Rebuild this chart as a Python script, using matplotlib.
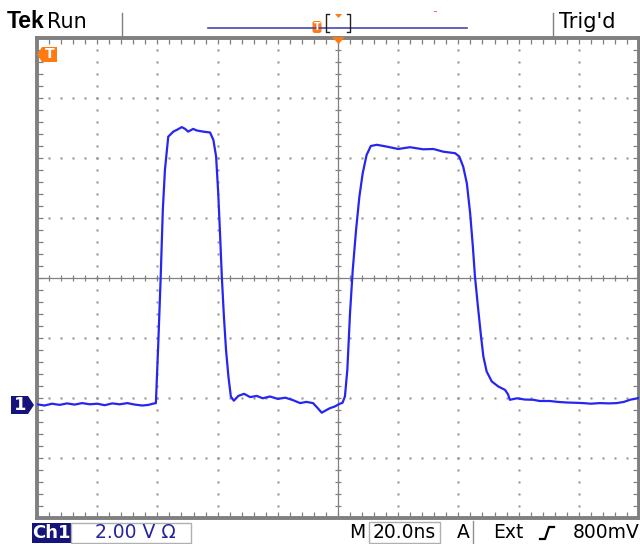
# -*- coding: utf-8 -*-

from matplotlib import pyplot as plt
from matplotlib import patches
from matplotlib.lines import Line2D
import numpy as np

# scope settings
VOLTS_PER_DIV = 2.0
NS_PER_DIV = 20.0
GROUND_DIV = -2.07   # ch1 ground marker position, in divisions

# ch1 trace (time in ns, level in volts)
t_ns = [-100, -97.5, -95, -92.5, -90, -87.5, -85, -82.5, -80, -77.5, -75, -72.5,
        -70, -67.5, -65, -63, -61.5, -60.5,
        -59.7, -58.9, -58.2, -57.5, -56.4, -54.7, -53.3, -51.9, -50.8, -49.8,
        -48.1, -47, -46, -44.8, -42.5, -41.4, -40.5, -39.8, -39.2, -38.6,
        -37.9, -37.2, -36.4, -35.6, -34.6, -33.1, -31.2, -29.2, -27, -25,
        -22.6, -20, -17.5, -15, -12.6, -10.5, -8.3, -6.8, -5.4, -4, -2.7, -1,
        0.4, 1.5, 2.3,
        3.1, 4.0, 4.9, 6.0, 7.1, 8.2, 9.5, 10.9, 12.9, 16.2, 20.0, 23.9, 28.3,
        31.7, 35.0, 38.9, 40.3, 41.6, 42.8, 43.9, 44.8, 45.5, 46.6, 47.5, 48.3,
        49.4, 51.1, 53.3, 55.5, 56.5, 57.1, 59.4, 62, 64.9,
        67, 70.4, 73, 76, 79, 81.5, 84, 87, 90, 92.6, 95, 97, 100]
volts = [-0.08, -0.12, -0.06, -0.10, -0.05, -0.09, -0.04, -0.08, -0.06, -0.11, -0.05, -0.08,
         -0.04, -0.09, -0.12, -0.10, -0.06, -0.04,
         1.97, 4.18, 6.40, 7.73, 8.84, 9.01, 9.08, 9.16, 9.10, 9.01,
         9.10, 9.05, 9.03, 9.01, 8.98, 8.73, 8.18, 6.97, 5.63, 4.18,
         2.84, 1.73, 0.84, 0.18, 0.04, 0.20, 0.27, 0.16, 0.20, 0.12,
         0.18, 0.10, 0.14, 0.06, -0.04, 0.00, -0.04, -0.20, -0.36, -0.28, -0.21, -0.15,
         -0.07, -0.03, 0.18,
         1.07, 2.97, 4.40, 5.73, 6.84, 7.62, 8.23, 8.53, 8.57, 8.51, 8.43, 8.49, 8.42,
         8.43, 8.34, 8.29, 8.18, 7.84, 7.29, 6.29, 5.18, 4.18, 3.07, 2.20, 1.51,
         1.01, 0.68, 0.51, 0.40, 0.25, 0.07, 0.12, 0.08, 0.07,
         0.03, 0.03, 0.00, -0.02, -0.03, -0.04, -0.06, -0.04, -0.05, -0.04, 0.00, 0.07, 0.13]

W, H = 640, 544
GREY = "#808080"
ORANGE = "#ff7a10"
NAVY = "#14147a"
TRACE = "#2626f2"

def fx(x):
    return x / W

def fy(y):
    return 1 - y / H

def figPoly(pts, color):
    fig.patches.append(patches.Polygon([(fx(x), fy(y)) for x, y in pts], closed=True,
                                       transform=fig.transFigure, facecolor=color,
                                       edgecolor="none"))

def figLine(xs, ys, color, lw=1.0):
    fig.lines.append(Line2D([fx(x) for x in xs], [fy(y) for y in ys],
                            transform=fig.transFigure, color=color, lw=lw))

def figBox(x0, y0, x1, y1, fc="none", ec="none"):
    fig.patches.append(patches.Rectangle((fx(x0), fy(y1)), (x1 - x0) / W, (y1 - y0) / H,
                                         transform=fig.transFigure, fc=fc, ec=ec, lw=1))

def figText(x, y, s, **kw):
    fig.text(fx(x), fy(y), s, ha=kw.pop("ha", "center"), va=kw.pop("va", "center"), **kw)

plt.rcParams['font.family'] = ['DejaVu Sans']
fig = plt.figure(figsize=(6.4, 5.44), dpi=100)
fig.patch.set_facecolor("white")

# graticule area
left, right, top, bottom = 37, 639, 37.7, 517.7
ax = fig.add_axes([fx(left), fy(bottom), (right - left) / W, (bottom - top) / H])
ax.set_xlim(-5 * NS_PER_DIV, 5 * NS_PER_DIV)
ax.set_ylim(-4, 4)

# dotted division lines
sub_y = np.arange(-4, 4.01, 0.2)
sub_x = np.arange(-5, 5.01, 0.2) * NS_PER_DIV
for d in range(-4, 5):
    if d == 0:
        continue
    ax.plot(np.full(len(sub_y), d * NS_PER_DIV), sub_y, ls="none", marker="s", ms=1.5,
            mec="none", mfc="#8c8c8c", zorder=1)
for d in range(-3, 4):
    if d == 0:
        continue
    ax.plot(sub_x, np.full(len(sub_x), d), ls="none", marker="s", ms=1.5,
            mec="none", mfc="#8c8c8c", zorder=1)

# centre cross with sub-division ticks
ax.axhline(0, color=GREY, lw=0.9, zorder=1)
ax.axvline(0, color=GREY, lw=0.9, zorder=1)
ax.plot(sub_x, np.zeros(len(sub_x)), ls="none", marker="|", ms=5, mew=0.9, color=GREY, zorder=1)
ax.plot(np.zeros(len(sub_y)), sub_y, ls="none", marker="_", ms=5, mew=0.9, color=GREY, zorder=1)

# border ticks
ax.set_xticks(sub_x)
ax.set_yticks(sub_y)
ax.tick_params(direction="in", length=4, width=0.9, color=GREY, top=True, right=True,
               labelbottom=False, labelleft=False)
for s in ax.spines.values():
    s.set_color(GREY)
    s.set_linewidth(2.8)

# trace
ax.plot(t_ns, np.array(volts) / VOLTS_PER_DIV + GROUND_DIV, color=TRACE, lw=1.6, zorder=3)

# markers: trigger position, trigger level, ch1 ground
figPoly([(332, 37), (345, 37), (338.5, 44)], ORANGE)
figPoly([(37, 54.5), (42, 47), (57, 47), (57, 62), (42, 62)], ORANGE)
figText(49.5, 54.5, "T", color="white", fontsize=10, fontweight="bold")
figPoly([(11, 396), (28, 396), (34, 405), (28, 414), (11, 414)], NAVY)
figText(20, 405, "1", color="white", fontsize=13, fontweight="bold")

# header
figText(7, 22, "Tek", ha="left", fontsize=16.5, fontweight="bold",
        family=["Liberation Sans", "DejaVu Sans"])
figText(47, 22, "Run", ha="left", fontsize=15)
figText(559, 22, "Trig'd", ha="left", fontsize=15)
figLine([122, 122], [13, 36], GREY, lw=1.0)
figLine([553, 553], [13, 36], GREY, lw=1.0)
figLine([208, 467], [28, 28], "#4848b0", lw=1.2)
fig.patches.append(patches.FancyBboxPatch((fx(312.5), fy(33)), 9 / W, 12 / H,
                                          boxstyle="round,pad=0,rounding_size=0.004",
                                          transform=fig.transFigure, fc=ORANGE, ec="none"))
figText(317, 27, "T", color="white", fontsize=7, fontweight="bold")
figLine([329, 326, 326, 329], [14, 14, 32, 32], "#222222", lw=1.0)
figLine([347, 350, 350, 347], [14, 14, 32, 32], "#222222", lw=1.0)
figPoly([(335, 14), (342, 14), (338.5, 18)], ORANGE)
figPoly([(434, 10.5), (437, 10.5), (437, 12), (434, 12)], "#ff6060")

# status bar
figBox(32, 523, 71, 543, fc=NAVY)
figText(51.5, 533, "Ch1", color="white", fontsize=13, fontweight="bold")
figBox(71, 523, 191, 543, ec="#b0b0b0")
figText(135, 533, "2.00 V \u03a9", color="#2424a0", fontsize=13.5)
figText(357, 533, "M", fontsize=13.5)
figBox(369, 522, 440, 543, ec="#b0b0b0")
figText(404.5, 533, "20.0ns", fontsize=13.5)
figText(463, 533, "A", fontsize=13.5)
figLine([473, 473], [521, 544], "#909090", lw=1.0)
figText(508, 533, "Ext", fontsize=13.5)
figLine([540, 545, 549, 554], [539, 539, 527, 527], "black", lw=1.6)
figText(640, 533, "800mV", ha="right", fontsize=13.5)

plt.savefig("out.png", dpi=100)
plt.close()
